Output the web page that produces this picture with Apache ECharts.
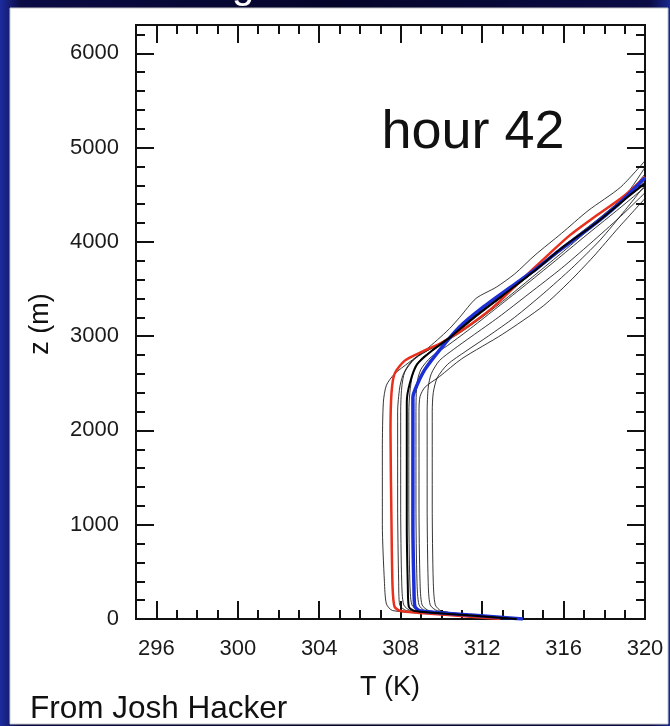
<!DOCTYPE html>
<html>
<head>
<meta charset="utf-8">
<script src="https://cdn.jsdelivr.net/npm/echarts@6/dist/echarts.min.js"></script>
<style>
  html,body{margin:0;padding:0;background:#06062e}
  #chart{width:670px;height:726px}
</style>
</head>
<body>
<div id="chart"></div>
<script>
// tick values
var xMajorTicks = [296, 300, 304, 308, 312, 316, 320];
var xMinorTicks = [295, 296, 297, 298, 299, 300, 301, 302, 303, 304, 305, 306, 307, 308, 309, 310, 311, 312, 313, 314, 315, 316, 317, 318, 319, 320];
var yMajorTicks = [0, 1000, 2000, 3000, 4000, 5000, 6000];
var yMinorTicks = [0, 200, 400, 600, 800, 1000, 1200, 1400, 1600, 1800, 2000, 2200, 2400, 2600, 2800, 3000, 3200, 3400, 3600, 3800, 4000, 4200, 4400, 4600, 4800, 5000, 5200, 5400, 5600, 5800, 6000, 6200];

// ensemble members, [T (K), z (m)]
var memberU  = [[313.2,0],[309.8,50],[307.6,90],[307.3,160],[307.2,400],[307.1,1000],[307.1,1800],[307.15,2300],[307.3,2480],[307.7,2600],[308.4,2720],[309.2,2850],[309.8,2960],[310.4,3080],[310.9,3200],[311.7,3400],[312.7,3520],[313.6,3660],[314.6,3860],[315.9,4090],[317.2,4330],[318.8,4580],[320,4860]];
var memberA7 = [[313.4,0],[310.3,50],[308.3,88],[307.95,150],[307.9,400],[307.85,1200],[307.85,2200],[307.95,2450],[308.1,2580],[308.4,2700],[308.9,2800],[309.8,2900],[310.8,3020],[312.0,3200],[313.3,3420],[314.6,3650],[316.0,3900],[317.5,4180],[319.0,4480],[320,4790]];
var memberA2 = [[313.5,0],[310.6,48],[308.5,88],[308.15,150],[308.05,400],[308.0,1200],[308.0,2200],[308.05,2450],[308.2,2620],[308.7,2760],[309.5,2870],[310.4,2990],[311.5,3170],[313.0,3420],[314.6,3700],[316.2,3990],[317.8,4260],[319.2,4520],[320,4720]];
var memberA3 = [[313.3,0],[310.7,48],[308.9,88],[308.55,150],[308.45,400],[308.4,1200],[308.4,2200],[308.45,2400],[308.6,2600],[309.0,2760],[309.8,2880],[310.8,3040],[312.0,3260],[313.5,3500],[315.0,3760],[316.6,4030],[318.2,4300],[319.4,4520],[320,4640]];
var memberA4 = [[313.6,0],[311.0,48],[309.2,88],[308.9,150],[308.8,400],[308.75,1200],[308.75,2200],[308.8,2500],[309.0,2650],[309.5,2780],[310.3,2900],[311.3,3060],[312.6,3280],[314.0,3520],[315.6,3800],[317.0,4050],[318.6,4330],[320,4580]];
var memberL  = [[313.5,0],[311.1,48],[309.4,88],[309.05,150],[308.95,400],[308.9,1200],[308.9,2200],[308.95,2360],[309.2,2460],[309.9,2570],[311.0,2760],[313.0,3020],[315.0,3320],[316.3,3580],[317.45,3840],[318.7,4150],[320,4460]];
var memberA5 = [[313.8,0],[311.4,48],[309.8,88],[309.45,150],[309.35,400],[309.3,1200],[309.3,2200],[309.35,2450],[309.5,2600],[309.9,2740],[310.6,2860],[311.5,3000],[312.8,3200],[314.3,3450],[315.9,3720],[317.3,3980],[318.8,4270],[320,4520]];
var memberA6 = [[313.4,0],[311.4,45],[310.0,85],[309.7,150],[309.6,400],[309.55,1200],[309.55,2200],[309.6,2400],[309.8,2560],[310.3,2700],[311.2,2840],[312.3,3000],[313.6,3200],[315.0,3450],[316.4,3720],[317.8,4020],[319.0,4330],[320,4600]];
var redRun   = [[312.9,0],[310.2,45],[308.0,85],[307.7,130],[307.6,350],[307.55,1000],[307.5,2000],[307.55,2400],[307.7,2600],[308.2,2740],[309.0,2830],[310.0,2930],[311.0,3060],[312.5,3300],[314.2,3650],[316.2,4050],[317.5,4260],[318.9,4475],[320,4690]];
var blueRun  = [[314.0,0],[311.3,45],[309.0,85],[308.7,130],[308.65,350],[308.6,1000],[308.6,2000],[308.6,2350],[308.8,2480],[309.2,2650],[309.9,2850],[310.9,3100],[312.0,3300],[313.4,3520],[314.7,3720],[315.8,3910],[317.3,4150],[318.7,4400],[320,4680]];
var blackRun = [[313.7,0],[311.0,45],[308.7,85],[308.4,130],[308.35,350],[308.3,1000],[308.3,2000],[308.3,2300],[308.45,2500],[308.8,2700],[309.5,2840],[310.5,3000],[311.6,3200],[313.0,3430],[314.5,3680],[316.0,3950],[317.6,4200],[319.0,4450],[320,4620]];

var thinMembers = [memberU, memberA7, memberA2, memberA3, memberA4, memberL, memberA5, memberA6];

var FONT = '"Liberation Sans", Arial, Helvetica, sans-serif';
var chart = echarts.init(document.getElementById('chart'), null, {renderer: 'canvas'});

function profile(data, color, width){
  return {
    type: 'line', data: data, xAxisIndex: 0, yAxisIndex: 0,
    showSymbol: false, symbol: 'none', smooth: 0.25, silent: true,
    lineStyle: {color: color, width: width}
  };
}

function plainNum(v){ return String(v); }

function xAxisDef(pos, ticks, len, labels){
  return {
    type: 'value', position: pos, min: 295, max: 320,
    axisLine: {show: true, onZero: false, lineStyle: {color: '#111', width: 2}},
    axisTick: {show: true, inside: true, length: len, customValues: ticks, lineStyle: {color: '#111', width: 2}},
    axisLabel: labels ? {show: true, customValues: ticks, formatter: plainNum, margin: 19, fontSize: 22, color: '#1a1a1a', fontFamily: FONT} : {show: false},
    splitLine: {show: false}
  };
}
function yAxisDef(pos, ticks, len, labels){
  return {
    type: 'value', position: pos, min: 0, max: 6300,
    axisLine: {show: true, onZero: false, lineStyle: {color: '#111', width: 2}},
    axisTick: {show: true, inside: true, length: len, customValues: ticks, lineStyle: {color: '#111', width: 2}},
    axisLabel: labels ? {show: true, customValues: ticks, formatter: plainNum, margin: 17, fontSize: 22, color: '#1a1a1a', fontFamily: FONT} : {show: false},
    splitLine: {show: false}
  };
}

var series = thinMembers.map(function(m){ return profile(m, 'rgba(20,20,20,0.85)', 1); });
series.push(profile(redRun, '#e8301c', 2.5));
series.push(profile(blueRun, '#1c2fd4', 3.5));
series.push(profile(blackRun, '#000', 2));

chart.setOption({
  animation: false,
  backgroundColor: 'transparent',
  grid: {left: 136, top: 25, width: 509, height: 594},
  xAxis: [
    xAxisDef('bottom', xMajorTicks, 18, true),
    xAxisDef('bottom', xMinorTicks, 9, false),
    xAxisDef('top', xMajorTicks, 18, false),
    xAxisDef('top', xMinorTicks, 9, false)
  ],
  yAxis: [
    yAxisDef('left', yMajorTicks, 18, true),
    yAxisDef('left', yMinorTicks, 9, false),
    yAxisDef('right', yMajorTicks, 18, false),
    yAxisDef('right', yMinorTicks, 9, false)
  ],
  graphic: [
    {type: 'rect', z: -10, silent: true, shape: {x: 0, y: 0, width: 670, height: 726},
      style: {fill: new echarts.graphic.LinearGradient(0, 0, 1, 0, [
        {offset: 0, color: '#1d2c9e'}, {offset: 0.03, color: '#0b0b45'},
        {offset: 0.5, color: '#05052a'}, {offset: 0.97, color: '#0b0b45'}, {offset: 1, color: '#1a2890'}])}},
    {type: 'text', z: -9, silent: true, x: 243, y: 7,
      style: {text: 'g', fill: '#fff', font: '40px ' + FONT, textAlign: 'center', textVerticalAlign: 'bottom'}},
    {type: 'rect', z: -8, silent: true, shape: {x: 10, y: 8, width: 658, height: 716},
      style: {fill: '#fff', stroke: '#c8c8c8', lineWidth: 1}},
    {type: 'text', z: 10, silent: true, x: 473, y: 160,
      style: {text: 'hour 42', fill: '#111', font: '54px ' + FONT, textAlign: 'center', textVerticalAlign: 'bottom'}},
    {type: 'text', z: 10, silent: true, x: 390, y: 688,
      style: {text: 'T (K)', fill: '#111', font: '27px ' + FONT, textAlign: 'center', textVerticalAlign: 'middle'}},
    {type: 'text', z: 10, silent: true, x: 41, y: 324, rotation: Math.PI / 2,
      style: {text: 'z (m)', fill: '#111', font: '27px ' + FONT, textAlign: 'center', textVerticalAlign: 'middle'}},
    {type: 'text', z: 10, silent: true, x: 30, y: 725,
      style: {text: 'From Josh Hacker', fill: '#111', font: '31.5px ' + FONT, textAlign: 'left', textVerticalAlign: 'bottom'}}
  ],
  series: series
});
</script>
</body>
</html>
